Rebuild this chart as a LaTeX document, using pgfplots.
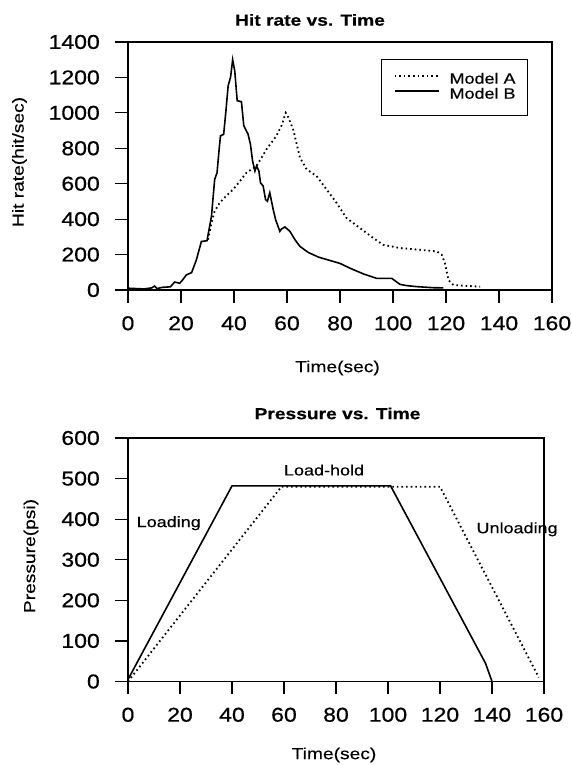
\documentclass[border=0pt]{standalone}
\usepackage{fontspec}
\setmainfont{Liberation Sans}
\newfontfamily\tickfont[FakeStretch=1.15,FakeBold=0.6]{Liberation Sans}
\newfontfamily\labfont[FakeStretch=1.2,FakeBold=0.4]{Liberation Sans}
\usepackage{pgfplots}
\pgfplotsset{compat=1.18}
\begin{document}
\begin{tikzpicture}
\useasboundingbox (0,0) rectangle (572pt,765pt);
\pgfplotsset{
  myax/.style={scale only axis, anchor=south west,
    xmin=0, xmax=160, xtick={0,20,...,160},
    tick align=outside, major tick length=13pt,
    xtick pos=left, ytick pos=left,
    axis line style={line width=1.2pt},
    major tick style={line width=1.2pt, black},
    /pgf/number format/assume math mode=true,
    /pgf/number format/1000 sep={},
    tick label style={font=\tickfont\fontsize{20}{20}\selectfont, inner sep=0pt},
    xticklabel style={anchor=north},
    yticklabel style={anchor=east},
    xticklabel shift=13pt, yticklabel shift=15pt,
    clip=false},
  dotl/.style={line width=1.8pt, dash pattern=on 1.6pt off 3pt},
  soll/.style={line width=1.6pt}
}
% ---------- top chart ----------
\begin{axis}[myax, at={(128pt,475pt)}, width=424pt, height=248pt,
  ymin=0, ymax=1400, ytick={0,200,...,1400},
  legend style={at={(0.597,0.931)}, anchor=north west, draw=black, line width=1.2pt,
    inner xsep=12pt, inner ysep=13pt, row sep=0pt,
    font=\labfont\fontsize{15}{16}\selectfont,
    nodes={inner sep=0pt, text height=11pt, text depth=4pt},
    /tikz/every odd column/.append style={column sep=10pt}},
  legend cell align=left,
  legend image code/.code={\draw[#1] (0pt,4pt) -- (44pt,4pt);}]
\addplot[dotl, mark=none] coordinates {
(30.2,284)(31.5,380)(32.7,445)(34.6,492)(37,530)(39.7,568)(42,610)(44.7,662)
(48.5,700)(50.5,750)(52.3,795)(56,870)(58,930)(59.5,1000)(60.2,985)(62.3,908)
(64.9,747)(67.4,681)(71.2,643)(74.9,568)(78.7,492)(82.4,407)(87.5,350)(92.6,293)
(96.3,255)(102.6,237)(110.2,227)(116.5,218)(118.4,199)(119.6,151)(120.9,57)
(122.8,28)(127.8,23)(132.9,19)};
\addlegendentry{Model A}
\addplot[soll, mark=none] coordinates {
(0,10)(3,8)(6,6)(9,12)(10,22)(11,8)(13,15)(16,18)(17.6,45)(19.5,38)(20.5,55)
(22,85)(24,98)(25.8,170)(27.7,274)(29.8,278)(31.5,416)(32.7,624)(33.6,662)
(34.4,795)(34.9,870)(36.1,879)(36.9,1003)(37.8,1154)(38.7,1201)(39.5,1300)
(40.3,1234)(41.2,1069)(42.8,1063)(43.7,927)(45.3,880)(46.2,823)(47,729)
(47.9,672)(48.5,700)(49.4,672)(50,605)(51,587)(51.9,511)(52.6,501)(53.5,549)
(54.8,454)(55.7,397)(57.3,331)(57.9,344)(59.2,356)(61.1,331)(63,284)(64.9,246)
(68,212)(72,185)(77.5,161)(80,150)(83.8,123)(88.8,91)(93.8,66)(99.5,66)
(102.6,32)(105,25)(108.9,19)(115,13)(119,12)};
\addlegendentry{Model B}
\end{axis}
% ---------- bottom chart ----------
\begin{axis}[myax, at={(128pt,83.5pt)}, width=416pt, height=243.5pt,
  ymin=0, ymax=600, ytick={0,100,...,600}]
\addplot[dotl, mark=none] coordinates {(0,0)(59,480)(120,480)(158,10)};
\addplot[soll, mark=none] coordinates {(0,5)(40,482)(101,482)(137.5,45)(140,0)};
\node[font=\labfont\fontsize{15}{16}\selectfont, anchor=center] at (axis cs:75.4,521) {Load-hold};
\node[font=\labfont\fontsize{15}{16}\selectfont, anchor=west] at (axis cs:2,390) {Loading};
\node[font=\labfont\fontsize{15}{16}\selectfont, anchor=west] at (axis cs:132.7,375) {Unloading};
\end{axis}
% ---------- titles and labels ----------
\node[font=\labfont\bfseries\fontsize{16}{16}\selectfont] at (310pt,745pt) {Hit rate vs. Time};
\node[font=\labfont\fontsize{16}{16}\selectfont] at (337.5pt,397pt) {Time(sec)};
\node[font=\labfont\fontsize{16}{16}\selectfont, rotate=90] at (19.5pt,603pt) {Hit rate(hit/sec)};
\node[font=\labfont\bfseries\fontsize{16}{16}\selectfont] at (337.5pt,351.5pt) {Pressure vs. Time};
\node[font=\labfont\fontsize{16}{16}\selectfont, rotate=90] at (31pt,209pt) {Pressure(psi)};
\node[font=\labfont\fontsize{16}{16}\selectfont] at (334pt,10pt) {Time(sec)};
\end{tikzpicture}
\end{document}
